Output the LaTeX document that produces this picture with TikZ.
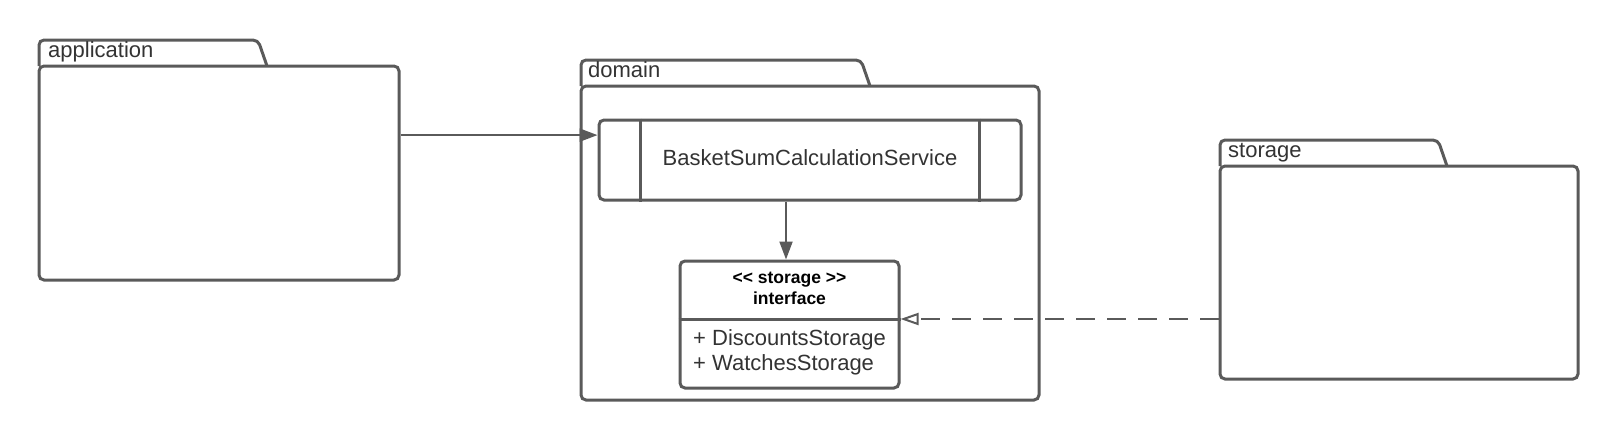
\documentclass[tikz,border=0pt]{standalone}
\usepackage{fontspec}
\setmainfont{Liberation Sans}
\usetikzlibrary{arrows.meta,calc}
\definecolor{ln}{HTML}{5A5A5A}
\definecolor{tx}{HTML}{333333}
\begin{document}
\begin{tikzpicture}[x=1pt,y=-1pt,
  fold/.style={draw=ln, line width=3pt, rounded corners=5pt, fill=white},
  pkg/.style={fold, rectangle, inner sep=0pt},
  bar/.style={draw=ln, line width=3pt},
  lbl/.style={text=tx, font=\fontsize{22}{26}\selectfont, inner sep=0pt},
  stereo/.style={text=black, font=\fontsize{17.5}{21}\selectfont\bfseries, inner sep=0pt, anchor=base},
  conn/.style={draw=ln, line width=2pt},
  filledtip/.style={-{Triangle[length=18pt,width=13pt]}},
  opentip/.style={-{Triangle[open,length=18pt,width=12pt]}},
  dep/.style={dash pattern=on 19pt off 12pt}]
\useasboundingbox (0,0) rectangle (1620,440);
% application package
\draw[fold] (39,66) -- (39,40) -- (258,40) -- (267,66);
\node[pkg, minimum width=360pt, minimum height=214pt] (app) at (219,173) {};
\node[lbl, anchor=base west] (applbl) at (48,57) {application};
% domain package
\draw[fold] (581,86) -- (581,60) -- (861,60) -- (870,86);
\node[pkg, minimum width=458pt, minimum height=314pt] (domain) at (810,243) {};
\node[lbl, anchor=base west] (domlbl) at (588,77) {domain};
% storage package
\draw[fold] (1220,166) -- (1220,140) -- (1438,140) -- (1447,166);
\node[pkg, minimum width=358pt, minimum height=213pt] (storage) at (1399,272.5) {};
\node[lbl, anchor=base west] (stlbl) at (1228,157) {storage};
% service
\node[pkg, minimum width=422pt, minimum height=80pt] (basket) at (810,160) {};
\draw[bar] ([xshift=43pt]basket.north west) -- ([xshift=43pt]basket.south west);
\draw[bar] ([xshift=-43pt]basket.north east) -- ([xshift=-43pt]basket.south east);
\node[lbl, anchor=base] (basketlbl) at (810,165.5) {BasketSumCalculationService};
% interface
\node[pkg, minimum width=219pt, minimum height=127pt] (iface) at (789.5,324.5) {};
\coordinate (div) at (789.5,319);
\draw[bar] (iface.west |- div) -- (iface.east |- div);
\node[stereo] (st1) at (789.5,283.3) {<\kern0pt< storage >\kern0pt>};
\node[stereo] (st2) at (789.5,304) {interface};
\node[lbl, anchor=base west] (m1) at (693,345) {+ DiscountsStorage};
\node[lbl, anchor=base west] (m2) at (693,370.5) {+ WatchesStorage};
% connectors
\coordinate (ay) at ($(basket.north west)!0.2!(basket.south west)$);
\coordinate (dx) at (786,0);
\draw[conn, filledtip] (app.east |- ay) -- (basket.west |- ay);
\draw[conn, filledtip] (basket.south -| dx) -- (iface.north -| dx);
\draw[conn, dep, opentip] (storage.west |- div) -- (iface.east |- div);
\end{tikzpicture}
\end{document}
